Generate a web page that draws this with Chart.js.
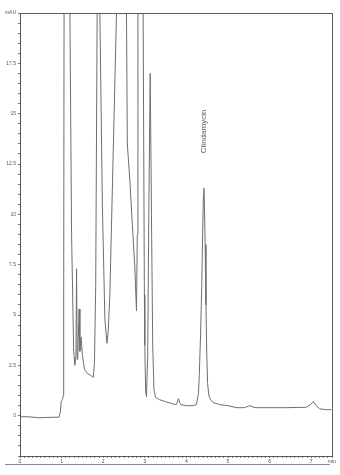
<!DOCTYPE html>
<html>
<head>
<meta charset="utf-8">
<script src="https://cdn.jsdelivr.net/npm/chart.js@4/dist/chart.umd.min.js"></script>
<style>
  html, body { margin: 0; padding: 0; background: #ffffff; }
  #wrap { width: 340px; height: 475px; }
</style>
</head>
<body>
<div id="wrap"><canvas id="c" width="340" height="475"></canvas></div>
<script>
// ---- data (retention time in min, absorbance in mAU) ----
const times = [
  0.00, 0.15, 0.30, 0.45, 0.60, 0.75, 0.94, 0.97, 0.99, 1.02, 1.04, 1.05, 1.06, 1.10,
  1.20, 1.24, 1.29, 1.32, 1.345, 1.36, 1.375, 1.39, 1.42, 1.44, 1.47, 1.50, 1.55, 1.62,
  1.70, 1.76, 1.79, 1.82, 1.86, 1.89, 1.92, 1.98, 2.04, 2.09, 2.12, 2.16, 2.24, 2.32,
  2.45, 2.56, 2.58, 2.64, 2.70, 2.76, 2.80, 2.82, 2.835, 2.90, 2.96, 2.99, 3.00, 3.02,
  3.04, 3.07, 3.10, 3.13, 3.16, 3.19, 3.22, 3.26, 3.35, 3.50, 3.65, 3.76, 3.81, 3.86,
  4.00, 4.15, 4.24, 4.29, 4.31, 4.34, 4.37, 4.39, 4.41, 4.42, 4.43, 4.45, 4.47, 4.49,
  4.51, 4.54, 4.58, 4.64, 4.80, 5.00, 5.20, 5.40, 5.52, 5.65, 6.00, 6.40, 6.88, 6.98,
  7.05, 7.12, 7.20, 7.35, 7.48
];
const absorbance = [
  -0.05, -0.05, -0.07, -0.10, -0.09, -0.08, -0.07, 0.2, 0.7, 0.8, 1.0, 5, 22, 40,
  20, 9, 3.2, 2.5, 3.0, 7.3, 2.8, 3.0, 5.3, 3.2, 3.9, 3.0, 2.3, 2.1,
  2.0, 1.9, 2.6, 6.5, 22, 40, 20, 10.5, 4.8, 3.6, 4.2, 6.0, 13, 20,
  45, 20, 13.5, 11.7, 9.5, 7.4, 5.2, 9, 20, 40, 20, 6, 3.5, 1.2,
  0.95, 3, 11, 17.0, 10, 3.5, 1.3, 0.9, 0.8, 0.7, 0.6, 0.55, 0.85, 0.55,
  0.5, 0.5, 0.55, 1.1, 2.0, 4.0, 6.5, 9.0, 11.0, 11.3, 10.8, 8.5, 5.5, 3.0,
  1.6, 1.0, 0.8, 0.66, 0.55, 0.5, 0.4, 0.4, 0.5, 0.4, 0.4, 0.4, 0.42, 0.55,
  0.7, 0.5, 0.35, 0.3, 0.3
];
const xTickValues = [0, 1, 2, 3, 4, 5, 6, 7, 7.5];
const xTickLabels = ['0', '1', '2', '3', '4', '5', '6', '7', 'min'];
const yTickValues = [0, 2.5, 5, 7.5, 10, 12.5, 15, 17.5, 20];
const yTickLabels = ['0', '2.5', '5', '7.5', '10', '12.5', '15', '17.5', 'mAU'];
const peakLabel = 'Clindamycin';
const peakTime = 4.42;
const peakValue = 11.3;

// ---- chart ----
const points = times.map((t, i) => ({ x: t, y: absorbance[i] }));

function labelFor(values, labels, v) {
  for (let i = 0; i < values.length; i++) {
    if (Math.abs(values[i] - v) < 1e-6) return labels[i];
  }
  return '';
}

const framePlugin = {
  id: 'frame',
  afterDraw(chart) {
    const ctx = chart.ctx;
    const a = chart.chartArea;
    ctx.save();
    ctx.strokeStyle = '#5a5a5a';
    ctx.lineWidth = 1;
    ctx.strokeRect(Math.round(a.left) + 0.5, Math.round(a.top) + 0.5,
                   Math.round(a.right - a.left), Math.round(a.bottom - a.top));
    // baseline rule beneath the time labels
    ctx.strokeStyle = '#8a8a8a';
    ctx.beginPath();
    ctx.moveTo(5, Math.round(a.bottom) + 8.5);
    ctx.lineTo(a.right - 2, Math.round(a.bottom) + 8.5);
    ctx.stroke();
    ctx.restore();
  },
  afterDatasetsDraw(chart) {
    const ctx = chart.ctx;
    const xs = chart.scales.x, ys = chart.scales.y;
    const px = xs.getPixelForValue(peakTime);
    const py = ys.getPixelForValue(peakValue) - 35;
    ctx.save();
    ctx.translate(px + 2, py);
    ctx.rotate(-Math.PI / 2);
    ctx.fillStyle = '#555555';
    ctx.font = '8px "Liberation Sans", Arial, sans-serif';
    ctx.textAlign = 'left';
    ctx.textBaseline = 'alphabetic';
    ctx.fillText(peakLabel, 0, 0);
    ctx.restore();
  }
};

new Chart(document.getElementById('c'), {
  type: 'line',
  data: {
    datasets: [{
      data: points,
      borderColor: '#6e6e6e',
      borderWidth: 1,
      pointRadius: 0,
      tension: 0,
      fill: false
    }]
  },
  options: {
    responsive: false,
    animation: false,
    layout: { padding: { top: 13, right: 8, left: 0, bottom: 0 } },
    plugins: { legend: { display: false }, tooltip: { enabled: false } },
    scales: {
      x: {
        type: 'linear',
        min: 0,
        max: 7.5,
        afterBuildTicks(scale) {
          const t = [];
          for (let i = 0; i <= 75; i++) t.push({ value: i / 10 });
          scale.ticks = t;
        },
        afterFit(scale) { scale.height = 19; },
        grid: { drawOnChartArea: false, drawTicks: true, tickLength: 2, color: '#777777' },
        border: { display: true, color: '#5a5a5a' },
        ticks: {
          autoSkip: false,
          maxRotation: 0,
          padding: 1,
          color: '#555555',
          font: { family: '"Liberation Sans", Arial, sans-serif', size: 5 },
          callback: (v) => labelFor(xTickValues, xTickLabels, v)
        }
      },
      y: {
        type: 'linear',
        min: -2,
        max: 20,
        afterBuildTicks(scale) {
          const t = [];
          for (let i = -4; i <= 40; i++) t.push({ value: i / 2 });
          scale.ticks = t;
        },
        afterFit(scale) { scale.width = 20; },
        grid: { drawOnChartArea: false, drawTicks: true, tickLength: 2, color: '#777777' },
        border: { display: true, color: '#5a5a5a' },
        ticks: {
          autoSkip: false,
          padding: 2,
          color: '#555555',
          font: { family: '"Liberation Sans", Arial, sans-serif', size: 5 },
          callback: (v) => labelFor(yTickValues, yTickLabels, v)
        }
      }
    }
  },
  plugins: [framePlugin]
});
</script>
</body>
</html>
